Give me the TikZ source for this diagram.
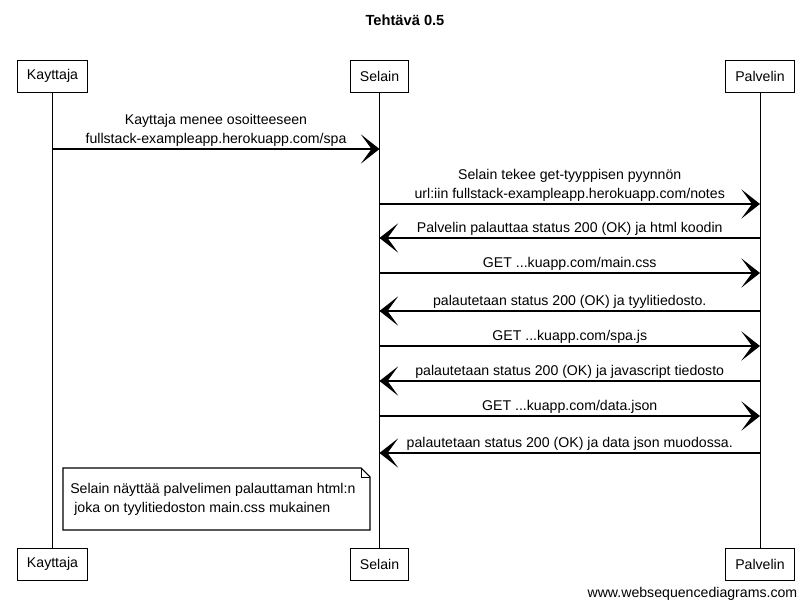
\documentclass[tikz,border=0pt]{standalone}
\usepackage{fontspec}
\setmainfont{Liberation Sans}
\usetikzlibrary{positioning, calc, arrows.meta}

\begin{document}
\begin{tikzpicture}[x=0.75pt, y=-0.75pt,
    actor/.style={draw, 
      line width=0.7pt, 
      minimum height=24pt, 
      inner xsep=7pt, 
      font=\fontsize{10.6}{12}\selectfont},
    msg/.style={-{Stealth[length=14pt, width=22pt, inset=8pt]}, 
      line width=0.9pt},
    msglabel/.style={above, 
      inner sep=1.5pt, 
      align=center, 
      font=\fontsize{10.6}{14.5}\selectfont}]
  \useasboundingbox (0,0) rectangle (811,609);

  \node[font=\bfseries\fontsize{11}{12}\selectfont] (title) at (405,20) {Tehtävä 0.5};

  % participants
  \node[actor] (kayttajatop) at (52.5,76) {Kayttaja};
  \node[actor] (selaintop) at (379.5,76) {Selain};
  \node[actor] (palvelintop) at (760,76) {Palvelin};

  \node[actor] (kayttajabottom) at (52.5,564) {Kayttaja};
  \node[actor] (selainbottom) at (379.5,564) {Selain};
  \node[actor] (palvelinbottom) at (760,564) {Palvelin};

  \draw[line width=0.7pt] (kayttajatop) -- (kayttajabottom);
  \draw[line width=0.7pt] (selaintop) -- (selainbottom);
  \draw[line width=0.7pt] (palvelintop) -- (palvelinbottom);

  % messages
  \coordinate (m1) at (0,149);
  \coordinate (m2) at (0,204);
  \coordinate (m3) at (0,238);
  \coordinate (m4) at (0,273);
  \coordinate (m5) at (0,311);
  \coordinate (m6) at (0,346);
  \coordinate (m7) at (0,381);
  \coordinate (m8) at (0,416);
  \coordinate (m9) at (0,453);

  \draw[msg] (kayttajatop |- m1) -- (selaintop |- m1) 
  node[msglabel, midway] {Kayttaja menee osoitteeseen\\fullstack-exampleapp.herokuapp.com/spa};

  \draw[msg] (selaintop |- m2) -- (palvelintop |- m2) 
  node[msglabel, midway] {Selain tekee get-tyyppisen pyynnön\\url:iin fullstack-exampleapp.herokuapp.com/notes};

  \draw[msg] (palvelintop |- m3) -- (selaintop |- m3) 
  node[msglabel, midway] {Palvelin palauttaa status 200 (OK) ja html koodin};

  \draw[msg] (selaintop |- m4) -- (palvelintop |- m4) 
  node[msglabel, midway] {GET ...kuapp.com/main.css};

  \draw[msg] (palvelintop |- m5) -- (selaintop |- m5) 
  node[msglabel, midway] {palautetaan status 200 (OK) ja tyylitiedosto.};

  \draw[msg] (selaintop |- m6) -- (palvelintop |- m6) 
  node[msglabel, midway] {GET ...kuapp.com/spa.js};

  \draw[msg] (palvelintop |- m7) -- (selaintop |- m7) 
  node[msglabel, midway] {palautetaan status 200 (OK) ja javascript tiedosto};

  \draw[msg] (selaintop |- m8) -- (palvelintop |- m8) 
  node[msglabel, midway] {GET ...kuapp.com/data.json};

  \draw[msg] (palvelintop |- m9) -- (selaintop |- m9) 
  node[msglabel, midway] {palautetaan status 200 (OK) ja data json muodossa.};

  % note
  \coordinate (notenw) at (63,468);
  \coordinate (notese) at (370,530);
  \draw[line width=0.8pt] (notenw) -- ($(notenw -| notese) + (-9,0)$) 
  -- ($(notenw -| notese) + (0,9)$) -- (notese) -- (notenw |- notese) -- cycle;
  \draw[line width=0.6pt] ($(notenw -| notese) + (-9,0)$) -- ($(notenw -| notese) + (-9,9)$) 
  -- ($(notenw -| notese) + (0,9)$);
  \node[align=left, 
    anchor=north west, 
    inner sep=0pt, 
    font=\fontsize{10.6}{14.5}\selectfont] (notetext) at (70,483) 
  {Selain näyttää palvelimen palauttaman html:n\\\hspace*{3pt}joka on tyylitiedoston main.css mukainen};

  \node[anchor=base east, 
    font=\fontsize{10.6}{12}\selectfont] (footer) at (802,598) {www.websequencediagrams.com};

\end{tikzpicture}
\end{document}
